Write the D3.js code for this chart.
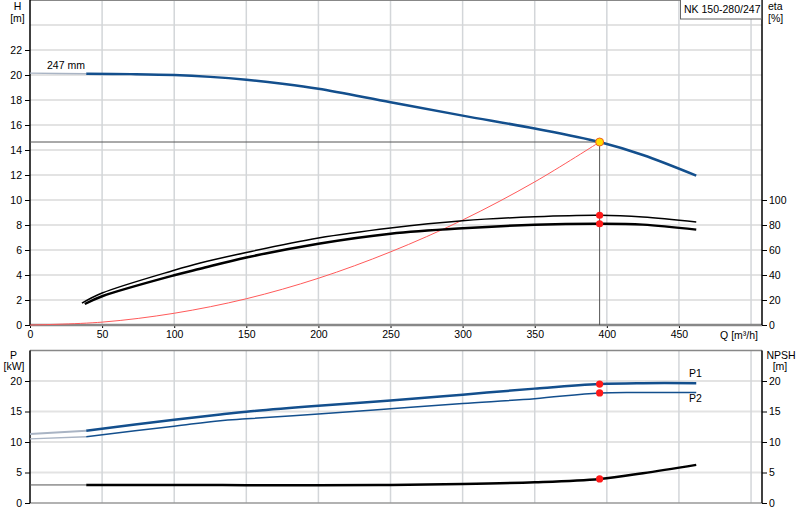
<!DOCTYPE html>
<html>
<head>
<meta charset="utf-8">
<script src="https://cdn.jsdelivr.net/npm/d3@7"></script>
<style>
  html, body { margin: 0; padding: 0; background: #fff; }
  svg { display: block; }
  text { font-family: "Liberation Sans", Arial, sans-serif; font-size: 10.5px; fill: #000; }
</style>
</head>
<body>
<svg id="chart" width="800" height="520"></svg>
<script>
// ---------- DATA ----------
const qTicks = [0, 50, 100, 150, 200, 250, 300, 350, 400, 450];
const qGrid = [50, 100, 150, 200, 250, 300, 350, 400, 450, 500];
const hTicks = [0, 2, 4, 6, 8, 10, 12, 14, 16, 18, 20, 22];
const hGrid = [2, 4, 6, 8, 10, 12, 14, 16, 18, 20, 22, 24];
const etaTicks = [0, 20, 40, 60, 80, 100];
const pTicks = [0, 5, 10, 15, 20];
const pGrid = [5, 10, 15, 20];

// Head curve (247 mm impeller)
const qHExt = [0, 20, 39];
const hExt = [20.15, 20.12, 20.1];
const qH = [39, 70, 100, 125, 150, 175, 200, 250, 300, 350, 395, 425, 462];
const hVals = [20.1, 20.07, 20.0, 19.85, 19.62, 19.3, 18.9, 17.82, 16.75, 15.72, 14.64, 13.6, 11.95];

// System curve
const qSys = [0, 50, 100, 150, 200, 250, 300, 350, 395];
const hSys = [0, 0.23, 0.94, 2.1, 3.74, 5.85, 8.4, 11.45, 14.64];

// Efficiency curves [%]
const qEta1 = [36, 50, 100, 118, 150, 200, 250, 300, 350, 395, 425, 462];
const eta1 = [17.5, 25.6, 43.8, 49.6, 58, 69.6, 77.6, 83.4, 86.6, 87.8, 86.4, 82.4];
const qEta2 = [38, 50, 100, 118, 150, 200, 250, 300, 350, 395, 425, 462];
const eta2 = [16.8, 23, 39.8, 45, 54, 65, 73, 77.4, 80.2, 81, 80.3, 76.3];

// Power curves [kW]
const qPExt = [0, 39];
const p1Ext = [11.3, 11.84];
const p2Ext = [10.5, 10.86];
const qP = [39, 100, 132, 150, 200, 250, 300, 350, 395, 425, 462];
const p1 = [11.84, 13.65, 14.5, 14.97, 15.95, 16.8, 17.76, 18.75, 19.5, 19.65, 19.65];
const p2 = [10.86, 12.6, 13.5, 13.8, 14.6, 15.45, 16.3, 17.1, 18.04, 18.12, 18.1];

// NPSH [m]
const qNExt = [0, 39];
const nExt = [2.96, 2.96];
const qN = [39, 100, 150, 200, 250, 300, 350, 395, 425, 462];
const npsh = [2.96, 2.96, 2.93, 2.92, 2.95, 3.1, 3.4, 3.95, 4.88, 6.25];

// Duty point
const dutyQ = 395;
const dutyH = 14.64;
const dutyEta1 = 87.8;
const dutyEta2 = 81;
const dutyP1 = 19.5;
const dutyP2 = 18.04;
const dutyN = 3.95;

const titleText = "NK 150-280/247";
const curveLabel = "247 mm";

// ---------- SCALES ----------
const svg = d3.select("#chart");
const L = 30, R = 762;
const topT = 0, topB = 325;
const botT = 350.5, botB = 503;

const x = d3.scaleLinear().domain([0, 507.6]).range([L, R]);
const yH = d3.scaleLinear().domain([0, 26]).range([topB, topT]);
const yEta = d3.scaleLinear().domain([0, 260]).range([topB, topT]);
const yP = d3.scaleLinear().domain([0, 25]).range([botB, botT]);
const yN = d3.scaleLinear().domain([0, 25]).range([botB, botT]);

const blue = "#134f8d";

// ---------- GRID ----------
function hgrid(vals, ys) {
  svg.append("g").selectAll("line").data(vals).join("line")
    .attr("x1", L).attr("x2", R)
    .attr("y1", d => ys(d)).attr("y2", d => ys(d))
    .attr("stroke", "#e3e3e3").attr("stroke-width", 2);
}
function vgrid(y1, y2) {
  svg.append("g").selectAll("line").data(qGrid).join("line")
    .attr("x1", d => x(d)).attr("x2", d => x(d))
    .attr("y1", y1).attr("y2", y2)
    .attr("stroke", "#d3d6d9").attr("stroke-width", 1.5);
}
hgrid(hGrid, yH);
vgrid(topT, topB);
hgrid(pGrid, yP);
vgrid(botT, botB);

// ---------- FRAMES ----------
svg.append("line").attr("x1", L).attr("x2", R).attr("y1", topT + 0.5).attr("y2", topT + 0.5)
  .attr("stroke", "#888").attr("stroke-width", 1.2);
svg.append("line").attr("x1", L).attr("x2", R).attr("y1", botT).attr("y2", botT)
  .attr("stroke", "#888").attr("stroke-width", 1.5);
svg.append("line").attr("x1", L).attr("x2", R).attr("y1", botB).attr("y2", botB)
  .attr("stroke", "#999").attr("stroke-width", 1.5);

// ---------- AXES ----------
function styleAxis(g) {
  g.select(".domain").remove();
  g.selectAll(".tick line").attr("stroke", "#000");
  g.selectAll(".tick text").attr("fill", "#000")
    .style("font-family", '"Liberation Sans", Arial, sans-serif').style("font-size", "10.5px");
}
svg.append("g").attr("transform", `translate(${L},0)`)
  .call(d3.axisLeft(yH).tickValues(hTicks).tickSize(5).tickPadding(3)).call(styleAxis);
svg.append("g").attr("transform", `translate(${R},0)`)
  .call(d3.axisRight(yEta).tickValues(etaTicks).tickSize(5).tickPadding(2)).call(styleAxis);
svg.append("g").attr("transform", `translate(0,${topB})`)
  .call(d3.axisBottom(x).tickValues(qTicks).tickSize(3).tickPadding(3)).call(styleAxis);
svg.append("g").attr("transform", `translate(${L},0)`)
  .call(d3.axisLeft(yP).tickValues(pTicks).tickSize(5).tickPadding(3)).call(styleAxis);
svg.append("g").attr("transform", `translate(${R},0)`)
  .call(d3.axisRight(yN).tickValues(pTicks).tickSize(5).tickPadding(2)).call(styleAxis);

// top x-axis line (gray, thick)
svg.append("line").attr("x1", L).attr("x2", R).attr("y1", topB).attr("y2", topB)
  .attr("stroke", "#888").attr("stroke-width", 2.5);
// vertical axis lines
[[L, topT, topB], [R, topT, topB], [L, botT, botB], [R, botT, botB]].forEach(([xx, a, b]) => {
  svg.append("line").attr("x1", xx).attr("x2", xx).attr("y1", a).attr("y2", b)
    .attr("stroke", "#000").attr("stroke-width", 1.5);
});

// ---------- LINES ----------
function drawLine(qs, vs, ys, color, width, curve) {
  const line = d3.line().x((d, i) => x(qs[i])).y((d, i) => ys(vs[i]))
    .curve(curve || d3.curveMonotoneX);
  svg.append("path").datum(vs).attr("d", line)
    .attr("fill", "none").attr("stroke", color).attr("stroke-width", width)
    .attr("stroke-linejoin", "round").attr("stroke-linecap", "butt");
}
const smooth = d3.curveCatmullRom.alpha(0.5);

// duty lines
svg.append("line").attr("x1", L).attr("x2", x(dutyQ)).attr("y1", yH(dutyH)).attr("y2", yH(dutyH))
  .attr("stroke", "#555").attr("stroke-width", 1);
svg.append("line").attr("x1", x(dutyQ)).attr("x2", x(dutyQ)).attr("y1", yH(dutyH)).attr("y2", topB)
  .attr("stroke", "#555").attr("stroke-width", 1);

// system curve
drawLine(qSys, hSys, yH, "#ff5a5a", 1, smooth);

// head
drawLine(qHExt, hExt, yH, "#a9b4c4", 1.5);
drawLine(qH, hVals, yH, blue, 2.5, smooth);

// efficiency
drawLine(qEta1, eta1, yEta, "#000", 1.5, smooth);
drawLine(qEta2, eta2, yEta, "#000", 2.5, smooth);

// power
drawLine(qPExt, p1Ext, yP, "#a9b4c4", 2);
drawLine(qPExt, p2Ext, yP, "#a9b4c4", 1.3);
drawLine(qP, p1, yP, blue, 2.5, smooth);
drawLine(qP, p2, yP, blue, 1.5, smooth);

// NPSH
drawLine(qNExt, nExt, yN, "#555", 1);
drawLine(qN, npsh, yN, "#000", 2.5, smooth);

// ---------- POINTS ----------
const redPts = [
  [dutyQ, yEta(dutyEta1)], [dutyQ, yEta(dutyEta2)],
  [dutyQ, yP(dutyP1)], [dutyQ, yP(dutyP2)], [dutyQ, yN(dutyN)]
];
svg.append("g").selectAll("circle").data(redPts).join("circle")
  .attr("cx", d => x(d[0])).attr("cy", d => d[1]).attr("r", 3.6)
  .attr("fill", "#ff1a1a");
svg.append("circle").attr("cx", x(dutyQ)).attr("cy", yH(dutyH)).attr("r", 4)
  .attr("fill", "#ffdd00").attr("stroke", "#f06020").attr("stroke-width", 1);

// ---------- TEXT ----------
function txt(s, xx, yy, anchor, color) {
  svg.append("text").attr("x", xx).attr("y", yy).attr("text-anchor", anchor || "start")
    .attr("fill", color || "#000").text(s);
}
txt("H", 17.5, 10, "middle");
txt("[m]", 17.5, 22, "middle");
txt("eta", 768, 10, "start");
txt("[%]", 768, 22, "start");
txt("Q [m³/h]", 758, 339, "end");
txt("P", 13.5, 359, "middle");
txt("[kW]", 14, 370, "middle");
txt("NPSH", 781, 359, "middle");
txt("[m]", 780, 370, "middle");
txt(curveLabel, 47, 69, "start");
txt("P1", 689, 377, "start", blue);
txt("P2", 689, 402, "start", blue);

// title box
svg.append("rect").attr("x", 680.5).attr("y", -1).attr("width", 81).attr("height", 20)
  .attr("fill", "#fff").attr("stroke", "#666").attr("stroke-width", 1);
txt(titleText, 684, 13, "start");
</script>
</body>
</html>
